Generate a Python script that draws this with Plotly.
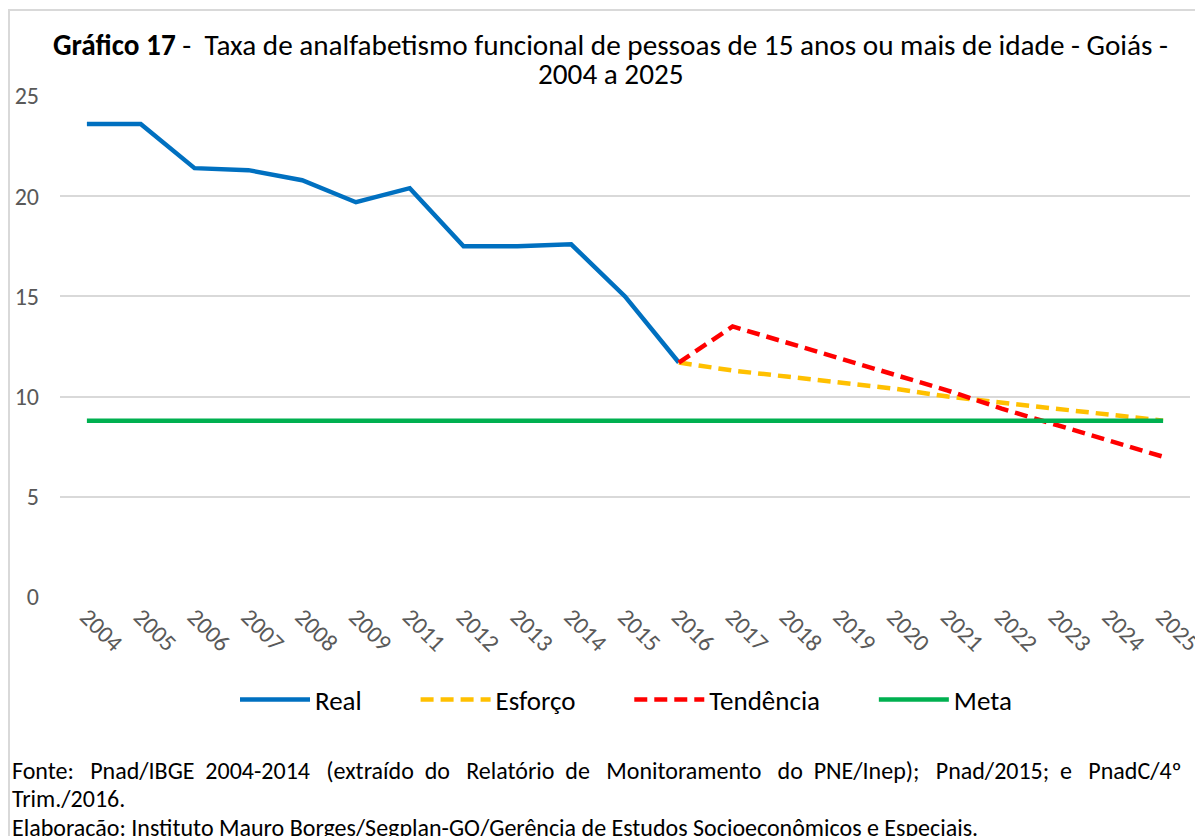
import plotly.graph_objects as go

years = ["2004", "2005", "2006", "2007", "2008", "2009", "2011", "2012", "2013", "2014",
         "2015", "2016", "2017", "2018", "2019", "2020", "2021", "2022", "2023", "2024", "2025"]

real_years = years[:12]
real_vals = [23.6, 23.6, 21.4, 21.3, 20.8, 19.7, 20.4, 17.5, 17.5, 17.6, 15.0, 11.7]

proj_years = years[11:]
esforco_vals = [11.7, 11.3, 11.0, 10.7, 10.4, 10.0, 9.7, 9.4, 9.1, 8.8]
tendencia_vals = [11.7, 13.5, 12.7, 11.9, 11.1, 10.3, 9.4, 8.6, 7.8, 7.0]

meta_vals = [8.8] * len(years)

FONT = "Carlito, Calibri, 'Liberation Sans Narrow', 'Open Sans', sans-serif"
PAD = "\u00a0" * 8

fig = go.Figure()
fig.add_trace(go.Scatter(x=real_years, y=real_vals, mode="lines", name="Real" + PAD,
                         line=dict(color="#0070C0", width=4.5)))
fig.add_trace(go.Scatter(x=proj_years, y=esforco_vals, mode="lines", name="Esforço" + PAD,
                         line=dict(color="#FFC000", width=4.5, dash="13px,7px")))
fig.add_trace(go.Scatter(x=proj_years, y=tendencia_vals, mode="lines", name="Tendência" + PAD,
                         line=dict(color="#FF0000", width=4.5, dash="13px,7px")))
fig.add_trace(go.Scatter(x=years, y=meta_vals, mode="lines", name="Meta",
                         line=dict(color="#00B050", width=4.5)))

OFF = 8  # page body margin
W, H = 1203 - OFF, 836 - OFF
L, R, T, B = 60 - OFF, 13, 96 - OFF, 239
pw, ph = W - L - R, H - T - B

def px_x(p):
    return (p - OFF - L) / pw

def px_y(p):
    return (H - B - (p - OFF)) / ph

TXT = 24

fonte = ("Fonte:   Pnad/IBGE  2004-2014   (extraído  do   Relatório  de   Monitoramento   "
         "do  PNE/Inep);   Pnad/2015;  e   PnadC/4º")

fig.update_layout(
    width=W, height=H,
    margin=dict(l=L, r=R, t=T, b=B, autoexpand=False),
    paper_bgcolor="white", plot_bgcolor="white",
    font=dict(family=FONT, color="#404040"),
    showlegend=True,
    legend=dict(orientation="h", x=px_x(626), xanchor="center", y=px_y(700), yanchor="middle",
                font=dict(size=27, color="#000000", family=FONT), itemwidth=70,
                traceorder="normal"),
    xaxis=dict(type="category", categoryorder="array", categoryarray=years,
               range=[-0.5, len(years) - 0.5], tickangle=45, showgrid=False,
               showline=False, ticks="", zeroline=False, automargin=False,
               tickfont=dict(size=TXT, color="#595959", family=FONT)),
    yaxis=dict(range=[0, 25], dtick=5, showgrid=True, gridcolor="#D9D9D9", gridwidth=2,
               zeroline=False, showline=False, ticks="", ticklabelstandoff=20, automargin=False,
               tickfont=dict(size=TXT, color="#595959", family=FONT)),
    annotations=[
        dict(xref="paper", yref="paper", x=px_x(610), y=px_y(45), xanchor="center", yanchor="middle",
             text="<b>Gráfico 17</b> -  Taxa de analfabetismo funcional de pessoas de 15 anos ou mais de idade - Goiás -",
             showarrow=False, font=dict(size=29.2, color="#000000", family=FONT)),
        dict(xref="paper", yref="paper", x=px_x(611), y=px_y(74), xanchor="center", yanchor="middle",
             text="2004 a 2025", showarrow=False, font=dict(size=29.2, color="#000000", family=FONT)),
        dict(xref="paper", yref="paper", x=px_x(10), y=px_y(770), xanchor="left", yanchor="middle",
             text=fonte, showarrow=False, font=dict(size=TXT, color="#000000", family=FONT)),
        dict(xref="paper", yref="paper", x=px_x(10), y=px_y(798), xanchor="left", yanchor="middle",
             text="Trim./2016.", showarrow=False, font=dict(size=TXT, color="#000000", family=FONT)),
        dict(xref="paper", yref="paper", x=px_x(10), y=px_y(827), xanchor="left", yanchor="middle",
             text="Elaboração: Instituto Mauro Borges/Segplan-GO/Gerência de Estudos Socioeconômicos e Especiais.",
             showarrow=False, font=dict(size=TXT, color="#000000", family=FONT)),
    ],
    shapes=[
        dict(type="rect", xref="paper", yref="paper", x0=px_x(9), x1=px_x(1230),
             y0=px_y(900), y1=px_y(10), line=dict(color="#D9D9D9", width=2), layer="below"),
    ],
)

fig.write_html("out.html")
